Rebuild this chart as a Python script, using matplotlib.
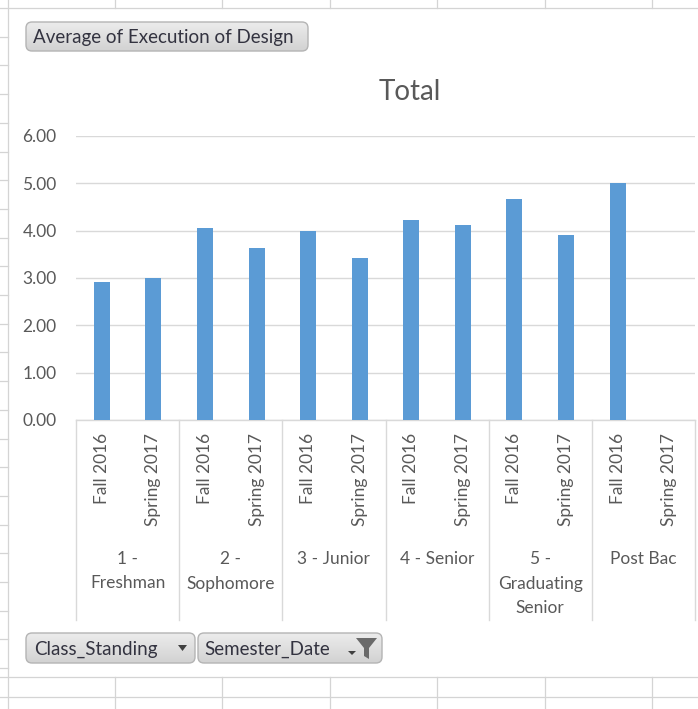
import matplotlib
matplotlib.use('Agg')
import matplotlib.pyplot as plt
import matplotlib.transforms as mtransforms
from matplotlib.patches import FancyBboxPatch, Polygon
from matplotlib.lines import Line2D
import numpy as np

# ---------------- data ----------------
classes = ["1 -\nFreshman", "2 -\nSophomore", "3 - Junior", "4 - Senior",
           "5 -\nGraduating\nSenior", "Post Bac"]
semesters = ["Fall 2016", "Spring 2017"]
fall_2016 = [2.91, 4.05, 3.99, 4.23, 4.66, 5.00]
spring_2017 = [2.99, 3.63, 3.42, 4.12, 3.90, np.nan]
y_ticks = [0, 1, 2, 3, 4, 5, 6]
chart_title = "Total"
value_field = "Average of Execution of Design"
row_fields = ["Class_Standing", "Semester_Date"]

# ---------------- style ----------------
plt.rcParams['font.family'] = ['Lato', 'DejaVu Sans']
W, H, DPI = 698, 709, 100
TXT = '#595959'
GRID = '#d9d9d9'
CELL = '#d4d4d4'
BAR = '#5b9bd5'

fig = plt.figure(figsize=(W / DPI, H / DPI), dpi=DPI)
fig.patch.set_facecolor('white')

# background overlay in pixel coordinates (y downwards)
bg = fig.add_axes([0, 0, 1, 1], zorder=0)
bg.set_xlim(0, W)
bg.set_ylim(H, 0)
bg.axis('off')

# worksheet cell grid around the chart
cols = [115, 222, 330, 437, 545, 652]
lw_cell = 0.9
bg.plot([0, W], [8, 8], color=CELL, lw=lw_cell)
for c in cols:
    bg.plot([c, c], [0, 8], color=CELL, lw=lw_cell)
bg.plot([8, 8], [0, H], color=CELL, lw=lw_cell)
for k in range(1, 24):
    yy = 8 + 28.7 * k
    bg.plot([0, 8], [yy, yy], color=CELL, lw=lw_cell)
for yy in [677, 697]:
    bg.plot([0, W], [yy, yy], color=CELL, lw=lw_cell)
for c in cols:
    bg.plot([c, c], [677, H], color=CELL, lw=lw_cell)


def button(x0, y0, x1, y1, label, tx, ty, ha='left'):
    patch = FancyBboxPatch((x0, y0), x1 - x0, y1 - y0,
                           boxstyle='round,pad=0,rounding_size=6',
                           facecolor='none', edgecolor='#b4b4b4', lw=1.0, zorder=3)
    grad = np.linspace(0, 1, 64).reshape(-1, 1)
    im = bg.imshow(grad, extent=[x0, x1, y1, y0], origin='upper',
                   cmap=matplotlib.colors.LinearSegmentedColormap.from_list(
                       'g', ['#ececec', '#d2d2d2']),
                   aspect='auto', zorder=2, interpolation='bilinear')
    bg.add_patch(patch)
    im.set_clip_path(patch)
    bg.text(tx, ty, label, ha=ha, va='baseline', fontsize=13.5,
            color='#333340', zorder=4)


button(26, 22, 308, 51, value_field, 33, 43)
button(26, 633, 195, 663, row_fields[0], 34, 655)
button(198, 633, 382, 663, row_fields[1], 204, 655)
# dropdown arrow
bg.add_patch(Polygon([[178, 645], [187, 645], [182.5, 651]], closed=True,
                     facecolor='#404040', edgecolor='none', zorder=5))
# filter funnel + small arrow
bg.add_patch(Polygon([[356, 638], [377, 638], [369, 648], [369, 659],
                      [364, 656], [364, 648]], closed=True,
                     facecolor='#6a6a6a', edgecolor='none', zorder=5))
bg.add_patch(Polygon([[348, 651], [356, 651], [352, 655]], closed=True,
                     facecolor='#404040', edgecolor='none', zorder=5))

bg.set_xlim(0, W)
bg.set_ylim(H, 0)

# title
fig.text(410 / W, 1 - 100 / H, chart_title, ha='center', va='baseline',
         fontsize=20, color=TXT)

# ---------------- main plot ----------------
L, R, T, B = 76, 695, 136, 420
ax = fig.add_axes([L / W, 1 - B / H, (R - L) / W, (B - T) / H], zorder=2)
ax.patch.set_alpha(0)

values = [v for pair in zip(fall_2016, spring_2017) for v in pair]
labels = [s for _ in classes for s in semesters]
x = np.arange(len(values))
ax.bar(x, values, width=0.31, color=BAR, zorder=3)

ax.set_xlim(-0.5, len(values) - 0.5)
ax.set_ylim(0, 6)
ax.set_yticks(y_ticks)
ax.set_yticklabels([f"{v:.2f}" for v in y_ticks])
ax.yaxis.grid(True, color=GRID, lw=1.0)
ax.set_axisbelow(True)
for s in ['top', 'right', 'left']:
    ax.spines[s].set_visible(False)
ax.spines['bottom'].set_color(GRID)
ax.spines['bottom'].set_linewidth(1.0)
ax.tick_params(axis='y', length=0, pad=14, labelsize=12.5, labelcolor=TXT)
ax.tick_params(axis='x', length=0, pad=9, labelsize=12.5, labelcolor=TXT)
ax.set_xticks(x)
ax.set_xticklabels(labels, rotation=90)

trans = mtransforms.blended_transform_factory(ax.transData, ax.transAxes)
ppx = B - T  # pixels per axes unit
n_sem = len(semesters)
for i in range(len(classes) + 1):
    bx = i * n_sem - 0.5
    ax.add_line(Line2D([bx, bx], [0, (B - 620) / ppx], transform=trans,
                       color=GRID, lw=1.0, clip_on=False))
for i, c in enumerate(classes):
    cx = i * n_sem + (n_sem - 1) / 2
    for k, line in enumerate(c.split('\n')):
        base = 564 + 24.5 * k
        ax.text(cx, (B - base) / ppx, line, transform=trans, ha='center',
                va='baseline', fontsize=12.5, color=TXT)

fig.savefig('out.png', dpi=DPI, facecolor='white')
